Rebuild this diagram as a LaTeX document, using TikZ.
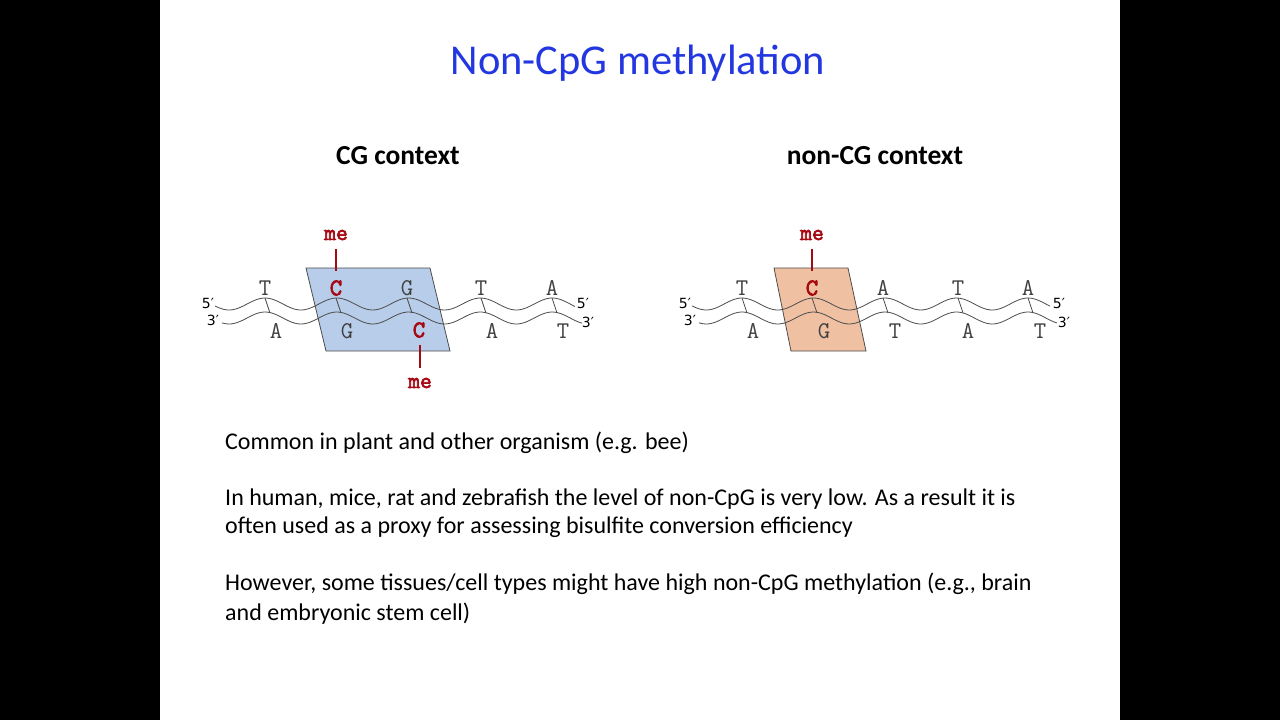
\documentclass[tikz,border=0pt]{standalone}
\usepackage{fontspec}
\setmainfont{Carlito}
\newfontfamily\endfont{DejaVu Sans}
\newfontfamily\ttbold[FakeBold=3]{Latin Modern Mono}
\begin{document}
\begin{tikzpicture}[x=1pt,y=-1pt,
  strand/.style={draw=black!70,line width=0.8pt},
  rung/.style={draw=black!70,line width=0.8pt},
  base/.style={font=\ttfamily\fontsize{24}{24}\selectfont,text=black!75,inner sep=0pt},
  mbase/.style={font=\ttbold\fontsize{24}{24}\selectfont,text=mered,inner sep=0pt},
  melab/.style={font=\ttbold\fontsize{23}{23}\selectfont,text=mered,inner sep=0pt},
  meline/.style={draw=mered,line width=2pt},
  endlab/.style={font=\endfont\fontsize{14}{14}\selectfont,inner sep=0pt},
  body/.style={font=\fontsize{24}{30}\selectfont,anchor=west,inner sep=0pt},
  head/.style={font=\bfseries\fontsize{27.5}{27.5}\selectfont,inner sep=0pt}]
\definecolor{mered}{RGB}{165,10,20}
\definecolor{boxblue}{RGB}{184,205,233}
\definecolor{boxorange}{RGB}{240,192,162}
\definecolor{titleblue}{RGB}{35,55,225}
\fill[black] (0,0) rectangle (1280,720);
\fill[white] (160,0) rectangle (1120,720);
\useasboundingbox (0,0) rectangle (1280,720);
\node[font=\fontsize{42.5}{42.5}\selectfont,text=titleblue] (title) at (638,63) {Non-CpG methylation};
\node[head] (h1) at (398,156) {CG context};
\node[head] (h2) at (875,156) {non-CG context};
% left
\filldraw[fill=boxblue,draw=black!70,line width=0.8pt] (306,268) -- (430,268) -- (450,351) -- (326,351) -- cycle;
\draw[strand] plot[domain=215:575,samples=120,smooth] (\x,{304-6*cos(5.014*(\x-265))});
\draw[strand] plot[domain=222:582,samples=120,smooth] (\x,{318-6*cos(5.014*(\x-265))});
\foreach \bx in {265,336,407,481,552}{\draw[rung] (\bx,298) -- (\bx+5,313);}
\node[base] (l1) at (265,288) {T};
\node[mbase] (l2) at (336,288) {C};
\node[base] (l3) at (407,288) {G};
\node[base] (l4) at (481,288) {T};
\node[base] (l5) at (552,288) {A};
\node[base] (b1) at (276,331) {A};
\node[base] (b2) at (347,331) {G};
\node[mbase] (b3) at (419,330) {C};
\node[base] (b4) at (492,331) {A};
\node[base] (b5) at (563,331) {T};
\node[melab] (me1) at (336,235) {me};
\node[melab] (me2) at (420,383) {me};
\draw[meline] (336,249) -- (336,271);
\draw[meline] (420,345) -- (420,368);
\node[endlab] (e1) at (208,303) {5′};
\node[endlab] (e2) at (213,320) {3′};
\node[endlab] (e3) at (583,303) {5′};
\node[endlab] (e4) at (588,322) {3′};
% right
\filldraw[fill=boxorange,draw=black!70,line width=0.8pt] (774,268) -- (848,268) -- (866,351) -- (791,351) -- cycle;
\draw[strand] plot[domain=692:1050,samples=120,smooth] (\x,{304-6*cos(5.035*(\x-742))});
\draw[strand] plot[domain=699:1057,samples=120,smooth] (\x,{318-6*cos(5.035*(\x-742))});
\foreach \bx in {742,812,883,958,1028}{\draw[rung] (\bx,298) -- (\bx+5,313);}
\node[base] (r1) at (742,288) {T};
\node[mbase] (r2) at (812,288) {C};
\node[base] (r3) at (883,288) {A};
\node[base] (r4) at (958,288) {T};
\node[base] (r5) at (1028,288) {A};
\node[base] (s1) at (753,331) {A};
\node[base] (s2) at (824,331) {G};
\node[base] (s3) at (895,331) {T};
\node[base] (s4) at (968,331) {A};
\node[base] (s5) at (1040,331) {T};
\node[melab] (me3) at (812,235) {me};
\draw[meline] (812,249) -- (812,271);
\node[endlab] (f1) at (685,303) {5′};
\node[endlab] (f2) at (690,320) {3′};
\node[endlab] (f3) at (1059,303) {5′};
\node[endlab] (f4) at (1064,322) {3′};
% text
\node[body] (t1) at (225,443) {Common in plant and other organism (e.g. bee)};
\node[body] (t2) at (225,499) {In human, mice, rat and zebrafish the level of non-CpG is very low. As a result it is};
\node[body] (t3) at (225,527) {often used as a proxy for assessing bisulfite conversion efficiency};
\node[body] (t4) at (225,584) {However, some tissues/cell types might have high non-CpG methylation (e.g., brain};
\node[body] (t5) at (225,614) {and embryonic stem cell)};
\end{tikzpicture}
\end{document}
